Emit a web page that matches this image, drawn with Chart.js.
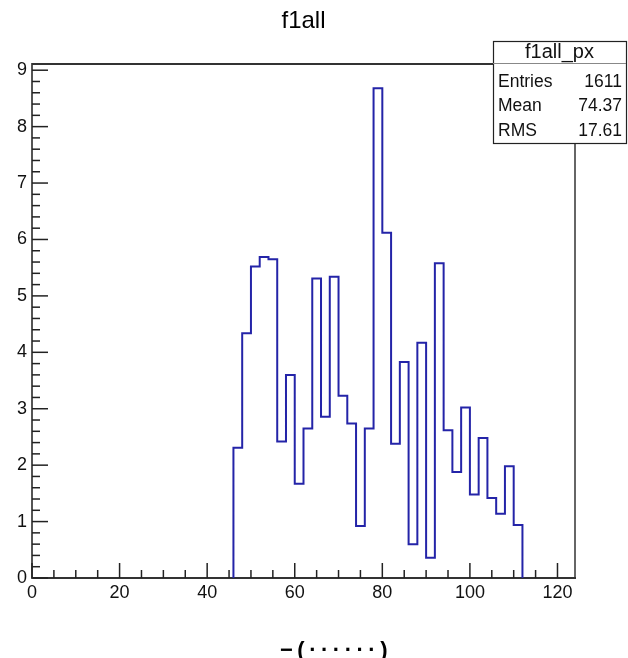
<!DOCTYPE html>
<html>
<head>
<meta charset="utf-8">
<script src="https://cdn.jsdelivr.net/npm/chart.js@4/dist/chart.umd.min.js"></script>
<style>
  body { margin: 0; background: #fff; }
  #wrap { position: relative; width: 628px; height: 658px; }
</style>
</head>
<body>
<div id="wrap"><canvas id="grafico"></canvas></div>
<script>
// --- datos del histograma ---
const histTitle = "f1all";
const xTitle = "−(······)";
const binEdges = [46, 48, 50, 52, 54, 56, 58, 60, 62, 64, 66, 68, 70, 72, 74, 76, 78, 80, 82, 84, 86, 88, 90, 92, 94, 96, 98, 100, 102, 104, 106, 108, 110, 112];
const counts = [2.31, 4.34, 5.52, 5.69, 5.65, 2.42, 3.60, 1.67, 2.65, 5.31, 2.86, 5.34, 3.23, 2.74, 0.92, 2.65, 8.68, 6.12, 2.38, 3.83, 0.60, 4.17, 0.36, 5.58, 2.62, 1.88, 3.02, 1.48, 2.48, 1.42, 1.14, 1.98, 0.94];
const xTicks = [0, 20, 40, 60, 80, 100, 120];
const yTicks = [0, 1, 2, 3, 4, 5, 6, 7, 8, 9];
const statsName = "f1all_px";
const statsLabels = ["Entries", "Mean", "RMS"];
const statsValues = ["1611", "74.37", "17.61"];

// puntos del escalon: sube en el primer borde y baja en el ultimo
const puntos = [{ x: binEdges[0], y: 0 }];
counts.forEach((c, i) => puntos.push({ x: binEdges[i], y: c }));
puntos.push({ x: binEdges[binEdges.length - 1], y: counts[counts.length - 1] });
puntos.push({ x: binEdges[binEdges.length - 1], y: 0 });

const FONT = "'Liberation Sans', Arial, sans-serif";

// marcas hacia dentro, marco, titulo y caja de estadisticas
const rootStyle = {
    id: 'rootStyle',
    afterDraw(chart) {
        const ctx = chart.ctx;
        const a = chart.chartArea;
        const sx = chart.scales.x;
        const sy = chart.scales.y;
        ctx.save();

        // ticks eje x
        ctx.strokeStyle = '#222';
        ctx.lineWidth = 1.5;
        for (let v = 0; v <= 120; v += 5) {
            const px = sx.getPixelForValue(v);
            const len = (v % 20 === 0) ? 15 : 8;
            ctx.beginPath();
            ctx.moveTo(px, a.bottom);
            ctx.lineTo(px, a.bottom - len);
            ctx.stroke();
        }
        // ticks eje y
        for (let k = 0; k <= 45; k++) {
            const v = k / 5;
            const py = sy.getPixelForValue(v);
            const len = (k % 5 === 0) ? 16 : 8;
            ctx.beginPath();
            ctx.moveTo(a.left, py);
            ctx.lineTo(a.left + len, py);
            ctx.stroke();
        }

        // marco superior y derecho
        ctx.strokeStyle = '#333';
        ctx.lineWidth = 2;
        ctx.beginPath();
        ctx.moveTo(a.left, a.top);
        ctx.lineTo(a.right, a.top);
        ctx.stroke();
        ctx.lineWidth = 1.5;
        ctx.beginPath();
        ctx.moveTo(a.right, a.top);
        ctx.lineTo(a.right, a.bottom);
        ctx.stroke();

        // titulo
        ctx.fillStyle = '#000';
        ctx.font = '24px ' + FONT;
        ctx.textAlign = 'center';
        ctx.textBaseline = 'middle';
        ctx.fillText(histTitle, (a.left + a.right) / 2, 21);

        // titulo eje x (cortado por abajo)
        ctx.font = 'bold 22px ' + FONT;
        ctx.textAlign = 'left';
        ctx.letterSpacing = '4.5px';
        ctx.fillText(xTitle, 280, 651);
        ctx.letterSpacing = '0px';

        // caja de estadisticas
        const bx = 493, by = 41, bw = 133, bh = 102;
        ctx.fillStyle = '#fff';
        ctx.fillRect(bx, by, bw, bh);
        ctx.strokeStyle = '#222';
        ctx.lineWidth = 1.2;
        ctx.strokeRect(bx + 0.5, by + 0.5, bw, bh);
        ctx.strokeStyle = '#888';
        ctx.beginPath();
        ctx.moveTo(bx, by + 22.5);
        ctx.lineTo(bx + bw, by + 22.5);
        ctx.stroke();

        ctx.fillStyle = '#111';
        ctx.font = '20px ' + FONT;
        ctx.textAlign = 'center';
        ctx.fillText(statsName, bx + bw / 2, by + 11);
        ctx.font = '17.5px ' + FONT;
        statsLabels.forEach((lab, i) => {
            const yy = by + 41 + i * 24.5;
            ctx.textAlign = 'left';
            ctx.fillText(lab, bx + 5, yy);
            ctx.textAlign = 'right';
            ctx.fillText(statsValues[i], bx + bw - 4, yy);
        });

        ctx.restore();
    }
};

const ctx = document.getElementById('grafico');

const chart = new Chart(ctx, {
    type: 'line',
    data: {
        datasets: [{
            label: statsName,
            data: puntos,
            stepped: true,
            borderColor: '#2424a8',
            borderWidth: 2,
            pointRadius: 0,
            fill: false,
            tension: 0
        }]
    },
    options: {
        responsive: true,
        maintainAspectRatio: false,
        animation: false,
        layout: { padding: { left: 0, top: 64, right: 53, bottom: 0 } },
        plugins: {
            legend: { display: false },
            tooltip: { enabled: false }
        },
        scales: {
            x: {
                type: 'linear',
                min: 0,
                max: 124,
                grid: { display: false, drawTicks: false },
                border: { display: true, color: '#333', width: 2 },
                afterFit: s => { s.height = 80; },
                afterBuildTicks: s => { s.ticks = xTicks.map(v => ({ value: v })); },
                ticks: {
                    includeBounds: false,
                    color: '#111',
                    padding: 4,
                    maxRotation: 0,
                    autoSkip: false,
                    font: { family: FONT, size: 18 }
                }
            },
            y: {
                min: 0,
                max: 9.11,
                grid: { display: false, drawTicks: false },
                border: { display: true, color: '#555', width: 2 },
                afterFit: s => { s.width = 32; },
                afterBuildTicks: s => { s.ticks = yTicks.map(v => ({ value: v })); },
                ticks: {
                    includeBounds: false,
                    color: '#111',
                    padding: 5,
                    autoSkip: false,
                    font: { family: FONT, size: 18 }
                }
            }
        }
    },
    plugins: [rootStyle]
});
</script>
</body>
</html>
